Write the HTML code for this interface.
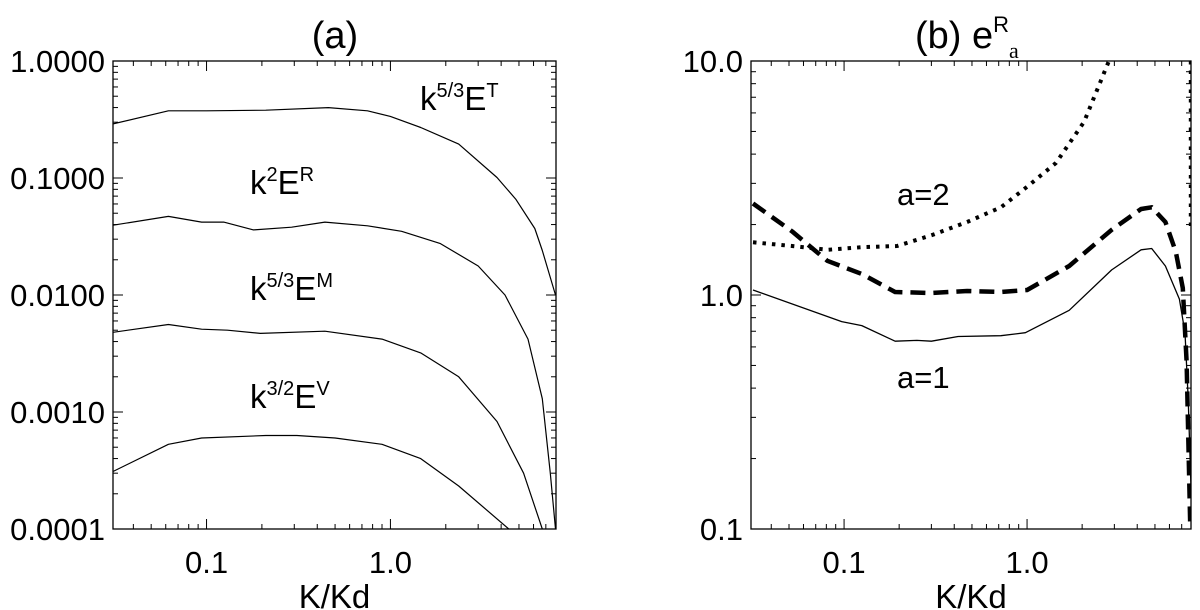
<!DOCTYPE html>
<html><head><meta charset="utf-8"><style>
html,body{margin:0;padding:0;background:#fff;}
svg{display:block;font-family:"Liberation Sans",Arial,sans-serif;}
</style></head><body>
<svg id="chart" width="1200" height="610" viewBox="0 0 1200 610"></svg>
<script>
// Panel (a) data
const aX_T=[0.031,0.062,0.1,0.21,0.46,0.75,1.0,1.46,2.35,3.8,4.8,6.1,6.7,7.9];
const aY_T=[0.29,0.375,0.375,0.38,0.40,0.375,0.336,0.27,0.195,0.101,0.066,0.037,0.024,0.01];
const aX_R=[0.031,0.062,0.094,0.124,0.18,0.29,0.44,0.75,1.15,1.87,3.0,4.2,5.6,6.7,7.4,7.9];
const aY_R=[0.0395,0.047,0.042,0.042,0.036,0.038,0.042,0.039,0.035,0.0275,0.0177,0.01,0.0042,0.0013,0.0003,0.0001];
const aX_M=[0.031,0.062,0.094,0.13,0.196,0.44,0.9,1.46,2.35,3.8,5.3,6.7];
const aY_M=[0.0048,0.0056,0.0051,0.005,0.0047,0.0049,0.0042,0.0032,0.002,0.00083,0.0003,0.0001];
const aX_V=[0.031,0.062,0.094,0.21,0.31,0.5,0.9,1.46,2.35,4.4];
const aY_V=[0.00031,0.00053,0.0006,0.00063,0.00063,0.0006,0.00053,0.0004,0.000233,0.0001];
// Panel (b) data
const bX_1=[0.0318,0.097,0.125,0.19,0.25,0.3,0.42,0.72,0.98,1.7,2.9,4.2,4.8,5.7,6.8,7.3,7.6,8.0];
const bY_1=[1.05,0.77,0.74,0.635,0.64,0.635,0.665,0.67,0.69,0.86,1.28,1.56,1.58,1.33,0.96,0.69,0.36,0.1];
const bX_D=[0.0318,0.052,0.081,0.125,0.19,0.3,0.47,0.72,1.0,1.7,2.9,4.2,4.8,5.7,6.5,7.1,7.45,7.8];
const bY_D=[2.46,1.87,1.4,1.23,1.03,1.02,1.04,1.03,1.05,1.33,1.9,2.33,2.37,2.05,1.53,1.07,0.52,0.1];
const bX_2=[0.0318,0.052,0.081,0.125,0.195,0.3,0.47,0.72,1.0,1.44,2.05,2.8];
const bY_2=[1.68,1.62,1.56,1.6,1.62,1.8,2.05,2.37,2.9,3.67,5.5,10];
const bX_2edge=[7.85,7.85];
const bY_2edge=[10,1.9];
const aYTicks=[1,0.1,0.01,0.001,0.0001];
const aYLabels=["1.0000","0.1000","0.0100","0.0010","0.0001"];
const bYTicks=[10,1,0.1];
const bYLabels=["10.0","1.0","0.1"];
const xTicks=[0.1,1];
const xLabels=["0.1","1.0"];

const NS="http://www.w3.org/2000/svg";
const svg=document.getElementById('chart');
function mk(tag,attrs,parent){const e=document.createElementNS(NS,tag);for(const k in attrs)e.setAttribute(k,attrs[k]);(parent||svg).appendChild(e);return e;}

function panel(p){
  const g=mk('g',{});
  
  
  const lx=Math.log10(p.xmin),hx=Math.log10(p.xmax),ly=Math.log10(p.ymin),hy=Math.log10(p.ymax);
  const sx=v=>p.L+(Math.log10(v)-lx)/(hx-lx)*(p.R-p.L);
  const sy=v=>p.B-(Math.log10(v)-ly)/(hy-ly)*(p.B-p.T);
  const cid='clip'+p.name;
  const cp=mk('clipPath',{id:cid},g);mk('rect',{x:p.L,y:p.T,width:p.R-p.L,height:p.B-p.T},cp);
  for(let d=-3;d<=2;d++){for(let m=1;m<10;m++){const v=m*Math.pow(10,d);if(v<p.xmin||v>p.xmax)continue;const x=sx(v);const len=m===1?10:5;
    const t1=mk('line',{x1:x,x2:x,y1:p.B,y2:p.B-len,stroke:'#000','stroke-width':1},g);
    
    const t2=mk('line',{x1:x,x2:x,y1:p.T,y2:p.T+len,stroke:'#000','stroke-width':1},g);
    }}
  for(let d=-5;d<=2;d++){for(let m=1;m<10;m++){const v=m*Math.pow(10,d);if(v<p.ymin*0.999||v>p.ymax*1.001)continue;const y=sy(v);const len=m===1?10:5;
    const t1=mk('line',{x1:p.L,x2:p.L+len,y1:y,y2:y,stroke:'#000','stroke-width':1},g);
    
    const t2=mk('line',{x1:p.R,x2:p.R-len,y1:y,y2:y,stroke:'#000','stroke-width':1},g);
    }}
  const fr=mk('rect',{x:p.L,y:p.T,width:p.R-p.L,height:p.B-p.T,fill:'none',stroke:'#000','stroke-width':1.3},g);
  
  p.yt.forEach((v,i)=>{const t=mk('text',{x:p.L-8,y:sy(v)+11,'text-anchor':'end','font-size':31},g);t.textContent=p.yl[i];
    });
  xTicks.forEach((v,i)=>{const t=mk('text',{x:sx(v),y:p.B+44,'text-anchor':'middle','font-size':31},g);t.textContent=xLabels[i];
    });
  const xt=mk('text',{x:(p.L+p.R)/2,y:608,'text-anchor':'middle','font-size':33},g);xt.textContent='K/Kd';
  
  const cg=mk('g',{'clip-path':'url(#'+cid+')'},g);
  p.series.forEach(s=>{const d=s.x.map((v,i)=>(i?'L':'M')+sx(v).toFixed(1)+','+sy(s.y[i]).toFixed(1)).join(' ');
    const a={d:d,fill:'none',stroke:'#000','stroke-width':s.w,'stroke-linejoin':'round'};if(s.dash)a['stroke-dasharray']=s.dash;
    const el=mk('path',a,cg);
    
    });
}
panel({name:'panel-a',L:113,R:556,T:61,B:529,xmin:0.031,xmax:7.95,ymin:0.0001,ymax:1,yt:aYTicks,yl:aYLabels,series:[
 {name:'line-ET',x:aX_T,y:aY_T,w:1.2},{name:'line-ER',x:aX_R,y:aY_R,w:1.2},{name:'line-EM',x:aX_M,y:aY_M,w:1.2},{name:'line-EV',x:aX_V,y:aY_V,w:1.2}]});
panel({name:'panel-b',L:751,R:1191,T:61,B:529,xmin:0.031,xmax:7.87,ymin:0.1,ymax:10,yt:bYTicks,yl:bYLabels,series:[
 {name:'line-a1-solid',x:bX_1,y:bY_1,w:1.3},{name:'line-dashed',x:bX_D,y:bY_D,w:4.5,dash:'15 8'},
 {name:'line-a2-dotted',x:bX_2,y:bY_2,w:4,dash:'3.5 6'},{name:'line-dotted-edge',x:bX_2edge,y:bY_2edge,w:4,dash:'3.5 6'}]});
</script>
<svg width="1200" height="610" style="position:absolute;left:0;top:0">
 <g font-family="Liberation Sans, Arial, sans-serif" fill="#000">
  <text x="335" y="48" font-size="38" text-anchor="middle">(a)</text>
  <text x="915" y="48" font-size="38">(b) e<tspan dy="-16" font-size="22">R</tspan><tspan dy="26" font-size="22" font-family="Liberation Serif, serif">a</tspan></text>
  <text x="420" y="110" font-size="33">k<tspan dy="-13" font-size="20">5/3</tspan><tspan dy="13">E</tspan><tspan dy="-13" font-size="20">T</tspan></text>
  <text x="250" y="194" font-size="33">k<tspan dy="-13" font-size="20">2</tspan><tspan dy="13">E</tspan><tspan dy="-13" font-size="20">R</tspan></text>
  <text x="250" y="300" font-size="33">k<tspan dy="-13" font-size="20">5/3</tspan><tspan dy="13">E</tspan><tspan dy="-13" font-size="20">M</tspan></text>
  <text x="250" y="408" font-size="33">k<tspan dy="-13" font-size="20">3/2</tspan><tspan dy="13">E</tspan><tspan dy="-13" font-size="20">V</tspan></text>
  <text x="897" y="205" font-size="31">a=2</text>
  <text x="897" y="388" font-size="31">a=1</text>
 </g>
</svg>
</body></html>
